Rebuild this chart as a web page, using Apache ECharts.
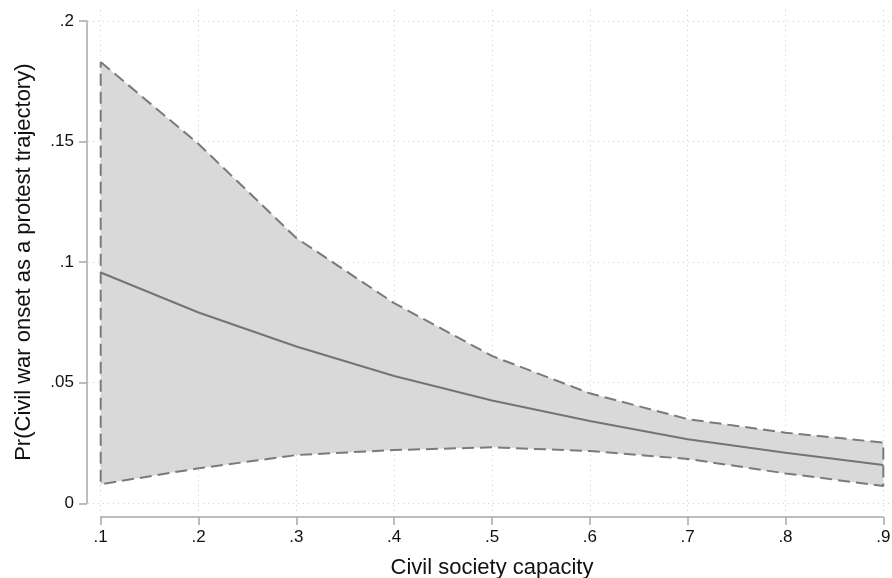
<!DOCTYPE html>
<html>
<head>
<meta charset="utf-8">
<script src="https://cdn.jsdelivr.net/npm/echarts@6/dist/echarts.min.js"></script>
<style>
html,body{margin:0;padding:0;background:#fff;}
#chart{width:892px;height:578px;}
</style>
</head>
<body>
<div id="chart"></div>
<script>
// Data
const xValues = [0.1, 0.2, 0.3, 0.4, 0.5, 0.6, 0.7, 0.8, 0.9];
const predicted = [0.0957, 0.0791, 0.0650, 0.0528, 0.0426, 0.0341, 0.0266, 0.0210, 0.0159];
const upperCI = [0.183, 0.1490, 0.1100, 0.0830, 0.0611, 0.0456, 0.0349, 0.0293, 0.0252];
const lowerCI = [0.0079, 0.0145, 0.0200, 0.0221, 0.0232, 0.0217, 0.0184, 0.0124, 0.0072];
const xTicks = [0.1, 0.2, 0.3, 0.4, 0.5, 0.6, 0.7, 0.8, 0.9];
const yTicks = [0, 0.05, 0.1, 0.15, 0.2];
const xTitle = 'Civil society capacity';
const yTitle = 'Pr(Civil war onset as a protest trajectory)';

function fmt(v) {
  if (v === 0) return '0';
  let s = String(+v.toFixed(4));
  return s.replace(/^0\./, '.');
}

const predData = xValues.map((x, i) => [x, predicted[i]]);
const outline = [];
xValues.forEach((x, i) => outline.push([x, upperCI[i]]));
for (let i = xValues.length - 1; i >= 0; i--) outline.push([xValues[i], lowerCI[i]]);
outline.push([xValues[0], upperCI[0]]);

const font = 'Liberation Sans, Arial, Helvetica, sans-serif';
const chart = echarts.init(document.getElementById('chart'), null, {renderer: 'canvas'});
const gridLine = {show: true, lineStyle: {color: '#cfcfcf', width: 1, type: [1, 4]}};

chart.setOption({
  animation: false,
  backgroundColor: '#ffffff',
  grid: [
    {left: 100.7, right: 8.7, top: 21, bottom: 74.7, outerBoundsMode: 'none', containLabel: false},
    {left: 88, right: 2, top: 10, bottom: 67, outerBoundsMode: 'none', containLabel: false}
  ],
  xAxis: [
    {
      type: 'value', gridIndex: 0, min: 0.1, max: 0.9, interval: 0.1,
      offset: 13.7,
      axisLine: {show: true, onZero: false, lineStyle: {color: '#a8a8a8', width: 1.5}},
      axisTick: {show: true, length: 8, lineStyle: {color: '#a8a8a8', width: 1.5}, customValues: xTicks},
      axisLabel: {customValues: xTicks, formatter: fmt, color: '#111', fontFamily: font, fontSize: 17, margin: 12},
      splitLine: {show: false},
      name: xTitle, nameLocation: 'middle', nameGap: 40,
      nameTextStyle: {color: '#111', fontFamily: font, fontSize: 22}
    },
    {
      type: 'value', gridIndex: 1, min: 0.08702, max: 0.90685,
      axisLine: {show: false}, axisTick: {show: false, customValues: xTicks},
      axisLabel: {show: false, customValues: xTicks},
      splitLine: gridLine
    }
  ],
  yAxis: [
    {
      type: 'value', gridIndex: 0, min: 0, max: 0.2, interval: 0.05,
      offset: 13.7,
      axisLine: {show: true, onZero: false, lineStyle: {color: '#a8a8a8', width: 1.5}},
      axisTick: {show: true, length: 8, lineStyle: {color: '#a8a8a8', width: 1.5}, customValues: yTicks},
      axisLabel: {customValues: yTicks, formatter: fmt, color: '#111', fontFamily: font, fontSize: 17, margin: 13},
      splitLine: {show: false},
      name: yTitle, nameLocation: 'middle', nameGap: 52, nameRotate: 90,
      nameTextStyle: {color: '#111', fontFamily: font, fontSize: 22}
    },
    {
      type: 'value', gridIndex: 1, min: -0.00319, max: 0.20456,
      axisLine: {show: false}, axisTick: {show: false, customValues: yTicks},
      axisLabel: {show: false, customValues: yTicks},
      splitLine: gridLine
    }
  ],
  series: [
    {
      type: 'line', xAxisIndex: 1, yAxisIndex: 1, data: [], silent: true
    },
    {
      name: 'ci band', type: 'custom', silent: true, clip: false,
      data: [[xValues[0], upperCI[0]]],
      renderItem: function (params, api) {
        const pts = outline.map(p => api.coord(p));
        return {
          type: 'polygon',
          shape: {points: pts},
          style: {fill: '#d9d9d9', stroke: null}
        };
      }
    },
    {
      name: 'ci outline', type: 'line', data: outline, symbol: 'none',
      lineStyle: {color: '#7a7a7a', width: 2, type: [12, 6]}, silent: true
    },
    {
      name: 'predicted', type: 'line', data: predData, symbol: 'none',
      lineStyle: {color: '#747474', width: 2}, silent: true
    }
  ]
});
</script>
</body>
</html>
